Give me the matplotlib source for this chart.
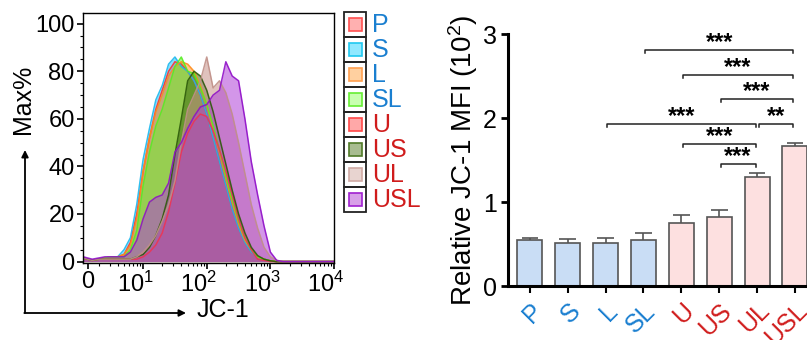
import numpy as np
import matplotlib
matplotlib.use("Agg")
import matplotlib.pyplot as plt
from matplotlib.patches import Rectangle
from matplotlib.transforms import ScaledTranslation

plt.rcParams['font.family'] = ['Liberation Sans', 'DejaVu Sans']
plt.rcParams['mathtext.fontset'] = 'custom'
plt.rcParams['mathtext.rm'] = 'Liberation Sans'
plt.rcParams['mathtext.it'] = 'Liberation Sans'

# ---------------------------------------------------------------
# data
# ---------------------------------------------------------------
groups = ['P', 'S', 'L', 'SL', 'U', 'US', 'UL', 'USL']
label_colors = ['#1a7fd0'] * 4 + ['#d01c1c'] * 4

# histogram: x in log10(JC-1) units, y in Max%
hist_x = [0.06, 0.2, 0.3, 0.4, 0.5, 0.6, 0.7, 0.8, 0.9, 1.0, 1.1, 1.2, 1.3, 1.4, 1.5, 1.6,
          1.7, 1.8, 1.9, 2.0, 2.1, 2.2, 2.3, 2.4, 2.5, 2.6, 2.7, 2.8, 2.9, 3.0, 3.1, 3.2, 4.0]
hist_P = [1.5, 0.5, 1, 1.5, 2, 2, 3, 8, 20, 38, 52, 64, 72, 80, 84, 83,
          80, 76, 70, 62, 52, 42, 32, 22, 14, 8, 4, 2, 1, 0.3, 0, 0, 0]
hist_S = [1.5, 0.5, 1, 1.5, 2, 2, 5, 10, 24, 43, 56, 68, 74, 83, 86, 82,
          80, 76, 70, 62, 52, 42, 32, 22, 14, 8, 4, 2, 1, 0.3, 0, 0, 0]
hist_L = [1.5, 0.5, 1, 1.5, 2, 2, 3, 7, 18, 38, 52, 63, 70, 78, 82, 84,
          83, 80, 74, 66, 56, 46, 35, 25, 16, 9, 5, 2, 1, 0.3, 0, 0, 0]
hist_SL = [1.5, 0.5, 1, 1.5, 2, 2, 2, 5, 13, 32, 46, 57, 64, 73, 82, 86,
           80, 79, 73, 66, 57, 47, 36, 26, 17, 10, 5, 2, 1, 0.3, 0, 0, 0]
hist_U = [1.5, 0.5, 1, 1, 1, 1, 1, 1, 1, 2, 4, 7, 12, 21, 33, 46,
          54, 59, 62, 61, 55, 47, 38, 28, 18, 10, 5, 1, 0.5, 0, 0, 0, 0]
hist_US = [1.5, 0.5, 1, 1, 1, 1, 1, 1, 2, 3, 6, 11, 18, 28, 45, 60,
           76, 80, 78, 72, 63, 52, 41, 30, 20, 12, 6, 2.5, 1, 0.3, 0, 0, 0]
hist_UL = [1.5, 0.5, 1, 1, 1, 1, 1, 1, 2, 4, 7, 11, 17, 24, 34, 50,
           64, 70, 76, 86, 73, 76, 71, 62, 50, 37, 24, 14, 6, 2, 0.5, 0, 0]
hist_USL = [2, 1, 1.5, 2, 2, 2, 2, 4, 9, 18, 25, 27, 28, 33, 46, 50,
            56, 61, 65, 66, 70, 72, 84, 78, 76, 60, 42, 28, 15, 4, 0.5, 0, 0]
hist_curves = [hist_P, hist_S, hist_L, hist_SL, hist_U, hist_US, hist_UL, hist_USL]

fill_colors = ['#ff5a5a', '#22c4ff', '#ff9a30', '#70f030', '#ee3a66', '#3d6b10', '#c89088', '#b040d8']
edge_colors = ['#ff3030', '#1ab8ee', '#ff8c1a', '#55ee22', '#ee3355', '#2d5a0a', '#c09088', '#9010c8']
legend_fill = ['#ffb0b0', '#90e8ff', '#ffd0a0', '#c8ffb0', '#ffa8a8', '#a8bc90', '#e8d4d0', '#d8a0e8']
legend_edge = ['#ff5050', '#20c8f0', '#ffa050', '#66ee33', '#ff4848', '#507a28', '#d0aaa4', '#a020d0']

# bar chart: relative JC-1 MFI (x10^2)
mfi_mean = [0.544, 0.508, 0.508, 0.544, 0.754, 0.818, 1.294, 1.670]
mfi_err = [0.027, 0.055, 0.063, 0.091, 0.091, 0.087, 0.048, 0.036]
bar_colors = ['#c9ddf5'] * 4 + ['#fde0e0'] * 4

# significance brackets (group index pairs)
sig_a = [3, 4, 5, 6, 2, 4, 5]
sig_b = [7, 7, 7, 7, 6, 6, 6]
sig_y = [2.81, 2.515, 2.226, 1.93, 1.93, 1.69, 1.449]
sig_txt = ['***', '***', '***', '**', '***', '***', '***']

# ---------------------------------------------------------------
fig = plt.figure(figsize=(8.07, 3.40), dpi=100)

# ---- histogram ----
ax1 = fig.add_axes([83 / 807, 77 / 340, 251 / 807, 250 / 340])
for i in range(len(groups)):
    ax1.fill_between(hist_x, 0, hist_curves[i], color=fill_colors[i], alpha=0.55, lw=0)
    ax1.plot(hist_x, hist_curves[i], color=edge_colors[i], lw=1.1, alpha=0.9)
ax1.set_xlim(0.055, 4.0)
ax1.set_ylim(-0.6, 104.5)
ax1.set_xticks([0.13, 1, 2, 3, 4])
ax1.set_xticklabels(['0', '$10^1$', '$10^2$', '$10^3$', '$10^4$'])
minor = [d + np.log10(k) for d in range(0, 4) for k in range(2, 10)]
ax1.set_xticks([m for m in minor if m > 0.2], minor=True)
ax1.set_yticks([0, 20, 40, 60, 80, 100])
ax1.set_yticks(np.arange(0, 105, 5), minor=True)
ax1.tick_params(axis='both', which='major', labelsize=17, length=4, width=1.2, pad=2)
ax1.tick_params(axis='both', which='minor', length=2.5, width=0.8)
for lab in ax1.get_xticklabels()[1:]:
    lab.set_transform(lab.get_transform() + ScaledTranslation(-8 / 100, 0, fig.dpi_scale_trans))
for sp in ax1.spines.values():
    sp.set_linewidth(1.0)

fig.text(23 / 807, 1 - 99 / 340, 'Max%', rotation=90, ha='center', va='center', fontsize=18)
fig.text(223 / 807, 30 / 340, 'JC-1', ha='center', va='center', fontsize=18)
arrow = dict(arrowstyle='-|>', lw=1.3, color='black', mutation_scale=10, shrinkA=0, shrinkB=0)
ax1.annotate('', xy=(25, 190), xytext=(25, 27), xycoords='figure pixels',
             textcoords='figure pixels', arrowprops=arrow, annotation_clip=False)
ax1.annotate('', xy=(186, 27), xytext=(24.3, 27), xycoords='figure pixels',
             textcoords='figure pixels', arrowprops=arrow, annotation_clip=False)

# ---- legend ----
axl = fig.add_axes([344 / 807, 128 / 340, 22 / 807, 200 / 340])
axl.set_xlim(0, 22)
axl.set_ylim(200, 0)
axl.axis('off')
for i, g in enumerate(groups):
    axl.add_patch(Rectangle((0, i * 25), 22, 25, fill=False, ec='#222222', lw=1.3, clip_on=False))
    axl.add_patch(Rectangle((4.5, i * 25 + 5.5), 13, 13, fc=legend_fill[i], ec=legend_edge[i],
                            lw=1.2, clip_on=False))
    axl.text(28, i * 25 + 13, g, color=label_colors[i], fontsize=18, ha='left', va='center',
             clip_on=False)

# ---- bar chart ----
ax2 = fig.add_axes([508 / 807, 54 / 340, 299 / 807, 252 / 340])
xpos = np.arange(len(groups))
ax2.bar(xpos, mfi_mean, width=0.66, color=bar_colors, edgecolor='#555555', lw=1.2, zorder=2)
tops = np.array(mfi_mean) + np.array(mfi_err)
ax2.vlines(xpos, mfi_mean, tops, color='#555555', lw=1.2, zorder=1)
ax2.hlines(tops, xpos - 0.22, xpos + 0.22, color='#555555', lw=1.2, zorder=1)
ax2.set_xlim(-0.58, 7.32)
ax2.set_ylim(0, 3)
ax2.set_yticks([0, 1, 2, 3])
ax2.set_xticks(xpos)
ax2.set_xticklabels(groups, rotation=45, ha='right', va='top', rotation_mode='anchor')
for lab, c in zip(ax2.get_xticklabels(), label_colors):
    lab.set_color(c)
ax2.tick_params(axis='y', labelsize=18, length=5, width=2, pad=3)
ax2.tick_params(axis='x', labelsize=18, length=5, width=1.5, pad=4)
ax2.spines['top'].set_visible(False)
ax2.spines['right'].set_visible(False)
ax2.spines['left'].set_linewidth(2.2)
ax2.spines['bottom'].set_linewidth(2.2)
ax2.set_ylabel('Relative JC-1 MFI (10$^2$)', fontsize=20, labelpad=2)

for a, b, y, t in zip(sig_a, sig_b, sig_y, sig_txt):
    x1, x2 = a + 0.04, b - 0.04
    ax2.plot([x1, x1, x2, x2], [y - 0.036, y, y, y - 0.036], color='#222222', lw=1.1,
             clip_on=False)
    ax2.text((a + b) / 2, y + 0.09, t, ha='center', va='center', fontsize=17,
             fontweight='bold', clip_on=False)

fig.savefig('out.png', dpi=100)
